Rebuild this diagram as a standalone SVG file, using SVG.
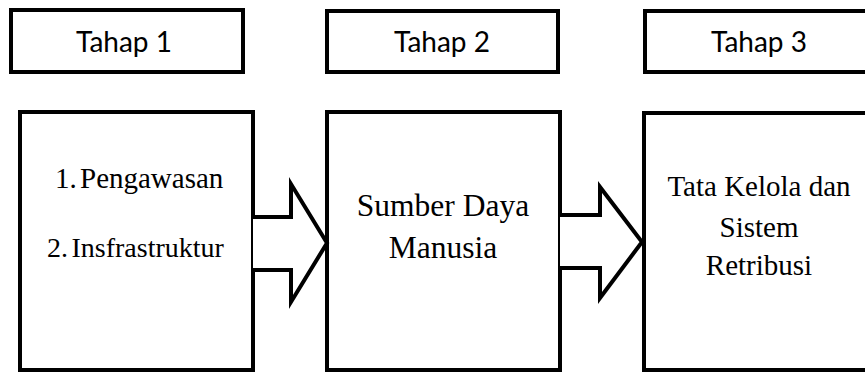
<svg xmlns="http://www.w3.org/2000/svg" width="865" height="372" viewBox="0 0 865 372">
  <style>
    .box { fill: #ffffff; stroke: #000000; stroke-width: 4; }
    .arrow { fill: #ffffff; stroke: #000000; stroke-width: 4; stroke-linejoin: miter; }
    .stage { font-family: Lato, "Open Sans", sans-serif; font-size: 28px; fill: #000000; text-anchor: middle; }
    .body { font-family: "Liberation Serif", "Times New Roman", serif; fill: #000000; }
  </style>
  <rect width="865" height="372" fill="#ffffff"/>

  <!-- stage headers -->
  <g id="tahap1">
    <rect class="box" x="11" y="10" width="232" height="62"/>
    <text class="stage" x="124" y="52">Tahap 1</text>
  </g>
  <g id="tahap2">
    <rect class="box" x="327" y="11" width="231" height="61"/>
    <text class="stage" x="442" y="52">Tahap 2</text>
  </g>
  <g id="tahap3">
    <rect class="box" x="645" y="11" width="230" height="61"/>
    <text class="stage" x="759" y="52">Tahap 3</text>
  </g>

  <!-- stage contents -->
  <g id="isi1">
    <rect class="box" x="20" y="112" width="233" height="258"/>
    <text class="body" font-size="29" y="188"><tspan x="55">1.</tspan><tspan x="80">Pengawasan</tspan></text>
    <text class="body" font-size="28" y="257"><tspan x="47">2.</tspan><tspan x="71.5">Insfrastruktur</tspan></text>
  </g>
  <g id="isi2">
    <rect class="box" x="327" y="112" width="233" height="258"/>
    <text class="body" font-size="31.5" text-anchor="middle" x="443" y="216">Sumber Daya</text>
    <text class="body" font-size="31.5" text-anchor="middle" x="443" y="258">Manusia</text>
  </g>
  <g id="isi3">
    <rect class="box" x="644" y="113" width="240" height="257"/>
    <text class="body" font-size="29" text-anchor="middle" x="759" y="196">Tata Kelola dan</text>
    <text class="body" font-size="29" text-anchor="middle" x="759" y="237">Sistem</text>
    <text class="body" font-size="29" text-anchor="middle" x="759" y="275">Retribusi</text>
  </g>

  <!-- block arrows between stages -->
  <g id="connectors">
    <path class="arrow" d="M253,217 H291 V184 L327,243 L291,302 V270 H253"/>
    <path class="arrow" d="M560,215 H600 V187 L642,242 L600,298 V268 H560"/>
  </g>
</svg>
